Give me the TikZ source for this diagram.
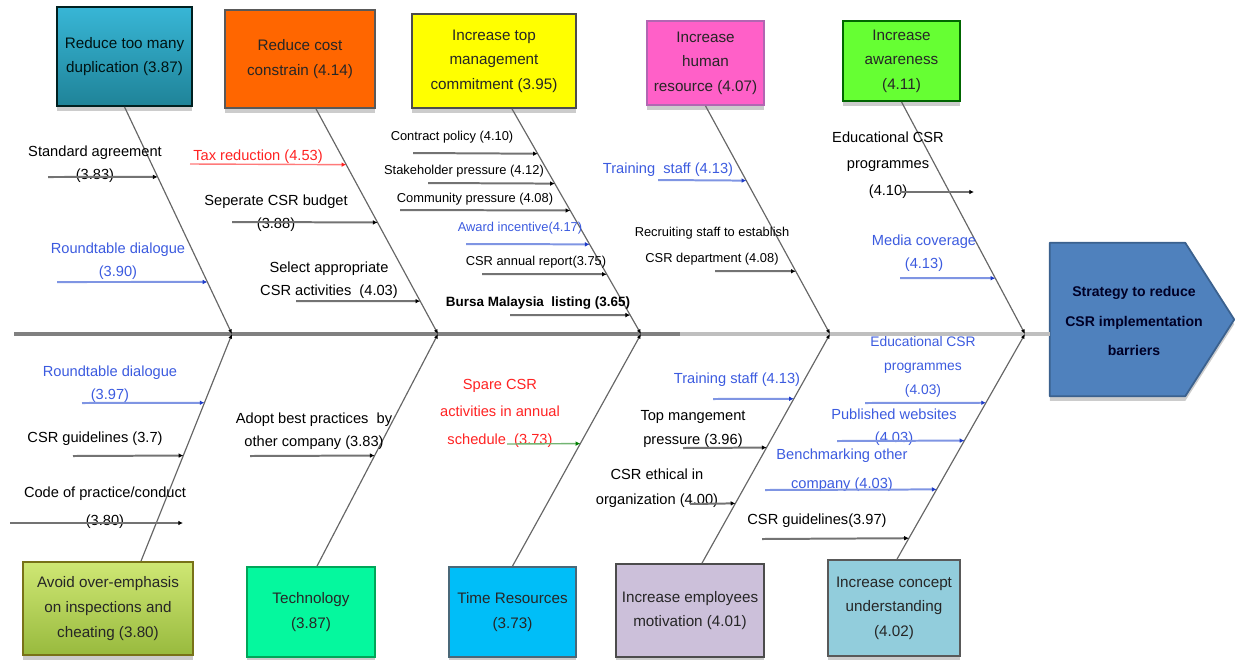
\documentclass[tikz,border=0pt]{standalone}
\usepackage{fontspec}
\setmainfont{Liberation Sans}
\usepackage{xcolor}
\usetikzlibrary{arrows.meta, positioning, calc, shadows}
\definecolor{tealtop}{HTML}{38B6D6}
\definecolor{tealbot}{HTML}{1F8398}
\definecolor{costorange}{HTML}{FF6600}
\definecolor{commityellow}{HTML}{FFFF00}
\definecolor{humanpink}{HTML}{FF60C8}
\definecolor{awaregreen}{HTML}{66FF33}
\definecolor{olivetop}{HTML}{CFE774}
\definecolor{olivebot}{HTML}{98BA3E}
\definecolor{techmint}{HTML}{05F89E}
\definecolor{timecyan}{HTML}{00BEF8}
\definecolor{motivlilac}{HTML}{CCC0DA}
\definecolor{conceptblue}{HTML}{92CDDC}
\definecolor{goalblue}{HTML}{4F81BD}
\definecolor{labblue}{HTML}{3C5BDF}
\definecolor{lineblue}{HTML}{7F95E3}
\definecolor{tipblue}{HTML}{1F3CC8}
\definecolor{labred}{HTML}{FF2222}
\definecolor{linegreen}{HTML}{72B472}

\begin{document}
\begin{tikzpicture}[x=0.03cm, y=-0.03cm,
  box/.style={draw, line width=1.5pt, align=center, text=black!85, inner sep=2pt,
    font=\fontsize{13}{21}\selectfont,
    drop shadow={shadow xshift=0pt, shadow yshift=-4pt, fill=black!20, opacity=1}},
  lab/.style={align=center, inner sep=0pt, font=\fontsize{12.5}{20}\selectfont},
  small/.style={lab, font=\fontsize{11}{19}\selectfont},
  bone/.style={draw=black!60, line width=1pt, -{Latex[length=1.4mm, width=1.2mm, color=black]}},
  arr/.style={draw=black!55, line width=1.7pt, -{Latex[length=1.4mm, width=1.4mm, color=black]}},
  arrblue/.style={arr, draw=lineblue, -{Latex[length=1.4mm, width=1.4mm, color=tipblue]}},
  arrred/.style={arr, draw=labred!60, line width=1.2pt, -{Latex[length=1.4mm, width=1.4mm, color=labred]}},
  arrgreen/.style={arr, draw=linegreen, line width=1.2pt, -{Latex[length=1.4mm, width=1.4mm, color=green!50!black]}}
]
\useasboundingbox (0,0) rectangle (1235,659);

% causes above the spine
\node[box, top color=tealtop, bottom color=tealbot, draw=black!75!teal, text=black!85!teal,
  minimum width=4.05cm, minimum height=2.97cm] (dup) at (124.5,56.5) {Reduce too many\\duplication (3.87)};
\node[box, fill=costorange, draw=black!65, minimum width=4.5cm, minimum height=2.94cm] (cost) at (300,59) {Reduce cost\\constrain (4.14)};
\node[box, fill=commityellow, draw=black!70, minimum width=4.92cm, minimum height=2.82cm] (topm) at (494,61) {Increase top\\management\\commitment (3.95)};
\node[box, fill=humanpink, draw=violet!60, minimum width=3.51cm, minimum height=2.52cm] (hum) at (705.5,63) {Increase\\human\\resource (4.07)};
\node[box, fill=awaregreen, draw=green!40!black, minimum width=3.51cm, minimum height=2.4cm] (aware) at (901.5,61) {Increase\\awareness\\(4.11)};

% causes below the spine
\node[box, top color=olivetop, bottom color=olivebot, draw=olive!80!black,
  minimum width=5.1cm, minimum height=2.79cm] (avoid) at (108,608.5) {Avoid over-emphasis\\on inspections and\\cheating (3.80)};
\node[box, fill=techmint, draw=teal!70!green, minimum width=3.84cm, minimum height=2.7cm] (tech) at (311,612) {Technology\\(3.87)};
\node[box, fill=timecyan, draw=cyan!40!black, minimum width=3.81cm, minimum height=2.7cm] (time) at (512.5,612) {Time Resources\\(3.73)};
\node[box, fill=motivlilac, draw=black!70, minimum width=4.44cm, minimum height=2.79cm] (motiv) at (690,610.5) {Increase employees\\motivation (4.01)};
\node[box, fill=conceptblue, draw=black!65, minimum width=3.96cm, minimum height=2.88cm] (concept) at (894,608) {Increase concept\\understanding\\(4.02)};

% effect
\node[minimum width=4.05cm, minimum height=4.59cm, inner sep=0pt] (goal) at (1117.5,319.5) {};
\fill[black!20] ([yshift=-4pt]goal.north west) -- ([yshift=-4pt]goal.north east)
  -- ([yshift=-4pt]$(goal.east)+(49,0)$) -- ([yshift=-4pt]goal.south east) -- ([yshift=-4pt]goal.south west) -- cycle;
\filldraw[fill=goalblue, draw=goalblue!75!black, line width=1.5pt, line join=round]
  (goal.north west) -- (goal.north east) -- ($(goal.east)+(49,0)$) -- (goal.south east) -- (goal.south west) -- cycle;
\node[align=center, font=\bfseries\fontsize{12}{25}\selectfont, text=black!85!blue] (goaltxt) at (1134,321)
  {Strategy to reduce\\CSR implementation\\barriers};

% spine
\coordinate (tail) at (14,334);
\coordinate (mid) at (680,334);
\draw[black!50, line width=2.6pt] (tail) -- (mid);
\draw[black!25, line width=2.6pt] (mid) -- (mid -| goal.west);

\coordinate (j1) at (232,334);
\coordinate (j2) at (438,334);
\coordinate (j3) at (641,334);
\coordinate (j4) at (830,334);
\coordinate (j5) at (1025,334);

\coordinate (p1) at (dup.south);
\coordinate (p2) at ($(cost.south)+(16,0)$);
\coordinate (p3) at ($(topm.south)+(18,0)$);
\coordinate (p4) at (hum.south);
\coordinate (p5) at (aware.south);
\coordinate (q1) at ($(avoid.north)+(33,0)$);
\coordinate (q2) at ($(tech.north)+(6,0)$);
\coordinate (q3) at (time.north);
\coordinate (q4) at ($(motiv.north)+(12,0)$);
\coordinate (q5) at ($(concept.north)+(3,0)$);

\foreach \i in {1,...,5}{
  \draw[bone] (p\i) -- (j\i);
  \draw[bone] (q\i) -- (j\i);
}

% bone 1, top
\node[lab] (sa) at (95,164) {Standard agreement\\(3.83)};
\node[lab, text=labblue] (rd) at (118,261) {Roundtable dialogue\\(3.90)};
\coordinate (sa0) at (48,177);
\coordinate (rd0) at (57,282);
\draw[arr] (sa0) -- ($(p1)!{(177-107)/227}!(j1)$);
\draw[arrblue] (rd0) -- ($(p1)!{(282-107)/227}!(j1)$);

% bone 2, top
\node[lab, text=labred] (tr) at (258,157) {Tax reduction (4.53)};
\node[lab] (sb) at (276,213) {Seperate CSR budget\\(3.88)};
\node[lab] (sel) at (329,280) {Select appropriate\\CSR activities~~(4.03)};
\coordinate (tr0) at (190,164);
\coordinate (sb0) at (232,222);
\coordinate (sel0) at (296,301);
\draw[arrred] (tr0) -- ($(p2)!{(164-108)/226}!(j2)$);
\draw[arr] (sb0) -- ($(p2)!{(222-108)/226}!(j2)$);
\draw[arr] (sel0) -- ($(p2)!{(301-108)/226}!(j2)$);

% bone 3, top
\node[small] (cp) at (452,137) {Contract policy (4.10)};
\node[small] (shp) at (464,171) {Stakeholder pressure (4.12)};
\node[small] (cmp) at (475,199) {Community pressure (4.08)};
\node[small, text=labblue] (ai) at (520,228) {Award incentive(4.17)};
\node[small] (car) at (536,262) {CSR annual report(3.75)};
\node[lab, font=\bfseries\fontsize{11.5}{14}\selectfont] (bml) at (538,303) {Bursa Malaysia~ listing (3.65)};
\coordinate (cp0) at (413,153);
\coordinate (shp0) at (428,183);
\coordinate (cmp0) at (400,210);
\coordinate (ai0) at (466,244);
\coordinate (car0) at (482,274);
\coordinate (bml0) at (510,315);
\draw[arr] (cp0) -- ($(p3)!{(153-108)/226}!(j3)$);
\draw[arr] (shp0) -- ($(p3)!{(183-108)/226}!(j3)$);
\draw[arr] (cmp0) -- ($(p3)!{(210-108)/226}!(j3)$);
\draw[arrblue] (ai0) -- ($(p3)!{(244-108)/226}!(j3)$);
\draw[arr] (car0) -- ($(p3)!{(274-108)/226}!(j3)$);
\draw[arr] (bml0) -- ($(p3)!{(315-108)/226}!(j3)$);

% bone 4, top
\node[lab, text=labblue] (ts) at (668,170) {Training~ staff (4.13)};
\node[small, font=\fontsize{11}{22}\selectfont] (rs) at (712,246) {Recruiting staff to establish\\CSR department (4.08)};
\coordinate (ts0) at (658,180);
\coordinate (rs0) at (715,271);
\draw[arrblue] (ts0) -- ($(p4)!{(180-105)/229}!(j4)$);
\draw[arr] (rs0) -- ($(p4)!{(271-105)/229}!(j4)$);

% bone 5, top
\node[lab, font=\fontsize{12.5}{22.5}\selectfont] (ecp) at (888,165) {Educational CSR\\programmes\\(4.10)};
\node[lab, text=labblue] (mc) at (924,253) {Media coverage\\(4.13)};
\coordinate (ecp0) at (900,192);
\coordinate (ecp1) at (974,192);
\coordinate (mc0) at (900,278);
\draw[arr] (ecp0) -- (ecp1);
\draw[arrblue] (mc0) -- ($(p5)!{(278-101)/233}!(j5)$);

% bone 1, bottom
\node[lab, text=labblue] (rd2) at (110,384) {Roundtable dialogue\\(3.97)};
\node[lab] (gl) at (95,439) {CSR guidelines (3.7)};
\node[lab, font=\fontsize{12.5}{24}\selectfont] (cop) at (105,508) {Code of practice/conduct\\(3.80)};
\coordinate (rd20) at (82,403);
\coordinate (gl0) at (73,456);
\coordinate (cop0) at (10,523);
\coordinate (cop1) at (183,523);
\draw[arrblue] (rd20) -- ($(j1)!{(403-334)/228}!(q1)$);
\draw[arr] (gl0) -- ($(j1)!{(456-334)/228}!(q1)$);
\draw[arr] (cop0) -- (cop1);

% bone 2, bottom
\node[lab] (abp) at (314,431) {Adopt best practices~ by\\other company (3.83)};
\coordinate (abp0) at (250,456);
\draw[arr] (abp0) -- ($(j2)!{(456-334)/233}!(q2)$);

% bone 3, bottom
\node[lab, text=labred, font=\fontsize{12.5}{23.5}\selectfont] (sp) at (500,413) {Spare CSR\\activities in annual\\schedule~~(3.73)};
\coordinate (sp0) at (507,444);
\draw[arrgreen] (sp0) -- ($(j3)!{(444-334)/233}!(q3)$);

% bone 4, bottom
\node[lab, text=labblue] (ts2) at (737,380) {Training staff (4.13)};
\node[lab, font=\fontsize{12.5}{21}\selectfont] (tmp) at (693,429) {Top mangement\\pressure (3.96)};
\node[lab, font=\fontsize{12.5}{21}\selectfont] (eth) at (657,488) {CSR ethical in\\organization (4.00)};
\coordinate (ts20) at (713,399);
\coordinate (tmp0) at (683,448);
\coordinate (eth0) at (690,504);
\draw[arrblue] (ts20) -- ($(j4)!{(399-334)/230}!(q4)$);
\draw[arr] (tmp0) -- ($(j4)!{(448-334)/230}!(q4)$);
\draw[arr] (eth0) -- ($(j4)!{(504-334)/230}!(q4)$);

% bone 5, bottom
\node[small, text=labblue, font=\fontsize{11.8}{20.5}\selectfont] (ecp2) at (923,367) {Educational CSR\\programmes\\(4.03)};
\node[lab, text=labblue] (pw) at (894,427) {Published websites\\(4.03)};
\node[lab, text=labblue, font=\fontsize{12.5}{25}\selectfont] (bmk) at (842,470) {Benchmarking other\\company (4.03)};
\node[lab] (gl2) at (817,521) {CSR guidelines(3.97)};
\coordinate (ecp20) at (865,403);
\coordinate (pw0) at (837,441);
\coordinate (bmk0) at (765,490);
\coordinate (gl20) at (762,539);
\draw[arrblue] (ecp20) -- ($(j5)!{(403-334)/226}!(q5)$);
\draw[arrblue] (pw0) -- ($(j5)!{(441-334)/226}!(q5)$);
\draw[arrblue] (bmk0) -- ($(j5)!{(490-334)/226}!(q5)$);
\draw[arr] (gl20) -- ($(j5)!{(539-334)/226}!(q5)$);
\end{tikzpicture}
\end{document}
